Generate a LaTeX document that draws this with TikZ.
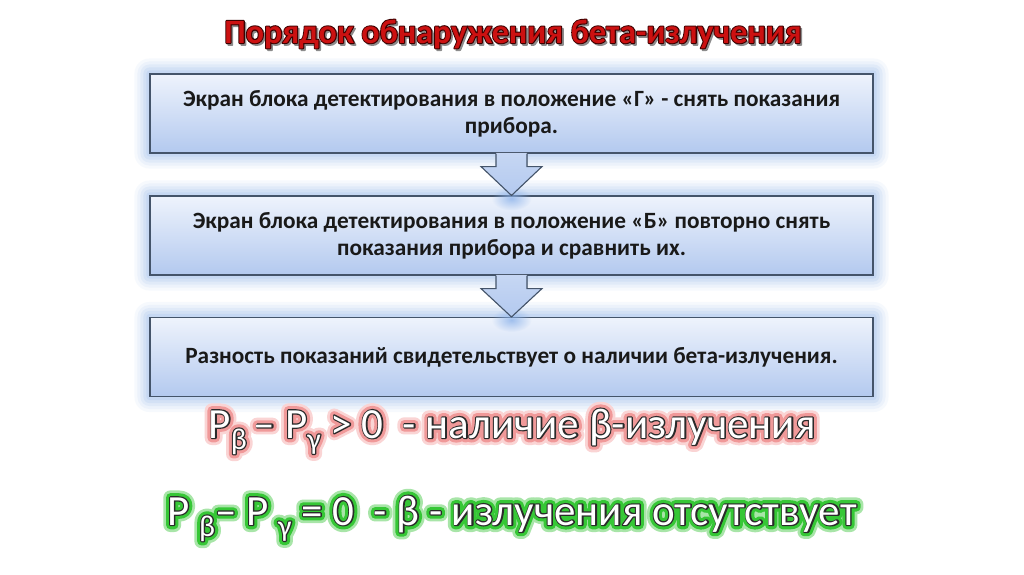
\documentclass[tikz,border=0pt]{standalone}
\usepackage{fontspec}
\setmainfont{Carlito}
\usetikzlibrary{calc,fadings}
\definecolor{boxtop}{HTML}{EEF3FC}
\definecolor{boxbot}{HTML}{B3C9EF}
\definecolor{boxline}{HTML}{44546A}
\definecolor{glowblue}{HTML}{8DB3EA}
\definecolor{titlered}{HTML}{CC1111}
\definecolor{redout}{HTML}{FAD4D4}
\definecolor{redin}{HTML}{F09898}
\definecolor{greenout}{HTML}{A8E6A8}
\definecolor{greenin}{HTML}{36C736}
\definecolor{outl}{HTML}{2A2A2A}
\definecolor{titleline}{HTML}{3A0000}
\tikzfading[name=glowfade, inner color=transparent!20, outer color=transparent!100]
\pgfdeclarelayer{bg}
\pgfsetlayers{bg,main}
\newcommand{\pdflit}[1]{\special{pdf:literal direct #1}}
\newcommand{\fsub}[1]{\raisebox{-11pt}{\fontsize{30}{30}\selectfont #1}}
% #1 outer rgb, #2 outer colour, #3 inner rgb, #4 inner colour, #5 text
\newcommand{\glowline}[5]{%
  \rlap{\color{#2}\pdflit{1 j 2 Tr 14 w #1 RG}#5\pdflit{0 Tr}}%
  \rlap{\color{#4}\pdflit{1 j 2 Tr 8.5 w #3 RG}#5\pdflit{0 Tr}}%
  \rlap{\color{outl}\pdflit{1 j 1 Tr 2.4 w 0.165 0.165 0.165 RG}#5\pdflit{0 Tr}}%
  {\color{white}#5}}
\newcommand{\titletext}{Порядок обнаружения бета-излучения}
\begin{document}
\begin{tikzpicture}[x=1pt,y=-1pt,
  stepbox/.style={draw=boxline, line width=1.1pt, top color=boxtop, bottom color=boxbot,
    minimum width=723pt, minimum height=79pt, text width=700pt, align=center,
    inner sep=0pt, font=\fontsize{23.3}{27}\selectfont\bfseries, text=black!90},
  arrowfill/.style={top color=boxbot!75!white, bottom color=boxbot},
  arrowline/.style={draw=boxline, line width=1.1pt, line join=miter},
  formula/.style={font=\fontsize{43}{43}\selectfont, anchor=base, inner sep=0pt},
  titlestyle/.style={font=\fontsize{34}{34}\selectfont\bfseries, anchor=base, inner sep=0pt}]
\useasboundingbox (0,0) rectangle (1024,574);

\node[titlestyle] (title) at (513,43) {%
  \rlap{\raisebox{-2pt}{\kern1.8pt\color{black!45}\pdflit{1 j 2 Tr 1.5 w 0.55 0.55 0.55 RG}\titletext\pdflit{0 Tr}}}%
  \rlap{\color{titleline}\pdflit{1 j 1 Tr 2 w 0.23 0 0 RG}\titletext\pdflit{0 Tr}}%
  {\color{titlered}\titletext}};

\node[stepbox] (b1) at (511.5,113.5) {\spaceskip=\fontdimen2\font\relax Экран блока детектирования в положение «Г» - снять показания\\прибора.};
\node[stepbox] (b2) at (511.5,235.5) {\spaceskip=\fontdimen2\font\relax Экран блока детектирования в положение «Б» повторно снять\\показания прибора и сравнить их.};
\node[stepbox] (b3) at (511.5,357) {\spaceskip=\fontdimen2\font\relax Разность показаний свидетельствует о наличии бета-излучения.};

\foreach \a/\b in {b1/b2,b2/b3}{
  \fill[glowblue, path fading=glowfade] ($(\b.north)+(0,3)$) ellipse (20pt and 12pt);
  \fill[arrowfill] ($(\a.south)+(-15.5,-0.6)$) -- ($(\a.south)+(-15.5,13)$) -- ($(\a.south)+(-30.5,13)$)
     -- (\b.north) -- ($(\a.south)+(30.5,13)$) -- ($(\a.south)+(15.5,13)$) -- ($(\a.south)+(15.5,-0.6)$) -- cycle;
  \draw[arrowline] ($(\a.south)+(-15.5,0)$) -- ($(\a.south)+(-15.5,13)$) -- ($(\a.south)+(-30.5,13)$)
     -- (\b.north) -- ($(\a.south)+(30.5,13)$) -- ($(\a.south)+(15.5,13)$) -- ($(\a.south)+(15.5,0)$);
}

\node[formula] (f1) at (512,438) {\glowline{0.98 0.83 0.83}{redout}{0.94 0.60 0.60}{redin}{P\fsub{β}\,– P\fsub{γ} > 0 \ - наличие β-излучения}};
\node[formula] (f2) at (512,525) {\glowline{0.66 0.90 0.66}{greenout}{0.21 0.78 0.21}{greenin}{P \fsub{β}– P \fsub{γ} = 0 \ - β - излучения отсутствует}};

\begin{pgfonlayer}{bg}
  \fill[white] (0,0) rectangle (1024,574);
  \foreach \b in {b1,b2,b3}{
    \foreach \r/\o in {15/0.07,12/0.09,9/0.12,6/0.15,3/0.18}{
      \fill[glowblue, opacity=\o, rounded corners=\r pt] ($(\b.north west)+(-\r,-\r)$) rectangle ($(\b.south east)+(\r,\r)$);
    }
  }
\end{pgfonlayer}
\end{tikzpicture}
\end{document}
